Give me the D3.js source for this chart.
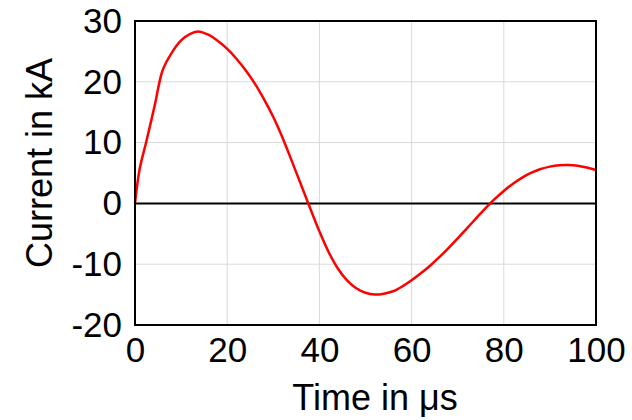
<!DOCTYPE html>
<html>
<head>
<meta charset="utf-8">
<title>Current</title>
<script src="https://d3js.org/d3.v7.min.js"></script>
<style>
  body { margin: 0; background: #fff; }
  text { font-family: "Liberation Sans", Arial, sans-serif; fill: #000; }
</style>
</head>
<body>
<script>
// time in microseconds and current in kA
var times   = [0, 1, 2.5, 4.3, 6, 8, 10, 12, 14, 16, 18, 20, 22, 24, 26, 28, 30, 32, 34, 36, 38, 40, 42, 44, 46, 48, 50, 52, 54, 56, 58, 60, 62, 64, 66, 68, 70, 72, 74, 76, 78, 80, 82, 84, 86, 88, 90, 92, 94, 96, 98, 100];
var current = [0, 5.6, 10.3, 16.2, 21.9, 24.8, 26.8, 27.9, 28.25, 27.7, 26.7, 25.4, 23.8, 21.9, 19.7, 17.1, 14.2, 10.8, 7.0, 3.1, -0.8, -4.6, -8.0, -10.7, -12.65, -13.95, -14.7, -15.0, -14.85, -14.45, -13.65, -12.65, -11.5, -10.25, -8.85, -7.35, -5.75, -4.1, -2.45, -0.8, 0.7, 2.05, 3.25, 4.25, 5.05, 5.65, 6.05, 6.28, 6.32, 6.2, 5.9, 5.5];
var xTicks = [0, 20, 40, 60, 80, 100];
var yTicks = [-20, -10, 0, 10, 20, 30];

var w = 632, h = 420;
var pLeft = 135, pRight = 596, pTop = 21, pBottom = 325;

var svg = d3.select("body").append("svg")
    .attr("width", w)
    .attr("height", h);

var x = d3.scaleLinear().domain([0, 100]).range([pLeft, pRight]);
var y = d3.scaleLinear().domain([-20, 30]).range([pBottom, pTop]);

// gridlines
svg.append("g").selectAll("line").data(xTicks.slice(1, -1)).enter().append("line")
    .attr("x1", function (d) { return x(d); })
    .attr("x2", function (d) { return x(d); })
    .attr("y1", pTop).attr("y2", pBottom)
    .attr("stroke", "#d9d9d9").attr("stroke-width", 1);

svg.append("g").selectAll("line").data(yTicks.slice(1, -1).filter(function (d) { return d != 0; })).enter().append("line")
    .attr("y1", function (d) { return y(d); })
    .attr("y2", function (d) { return y(d); })
    .attr("x1", pLeft).attr("x2", pRight)
    .attr("stroke", "#d9d9d9").attr("stroke-width", 1);

// zero line
svg.append("line")
    .attr("x1", pLeft).attr("x2", pRight)
    .attr("y1", y(0)).attr("y2", y(0))
    .attr("stroke", "#000").attr("stroke-width", 2);

// curve
var line = d3.line()
    .x(function (d, i) { return x(times[i]); })
    .y(function (d) { return y(d); })
    .curve(d3.curveCatmullRom.alpha(0.5));

svg.append("path")
    .datum(current)
    .attr("d", line)
    .attr("fill", "none")
    .attr("stroke", "#ff0000")
    .attr("stroke-width", 2.5);

// frame
svg.append("rect")
    .attr("x", pLeft).attr("y", pTop)
    .attr("width", pRight - pLeft).attr("height", pBottom - pTop)
    .attr("fill", "none").attr("stroke", "#000").attr("stroke-width", 2);

// axes (labels only)
var xAxis = svg.append("g")
    .attr("transform", "translate(0," + pBottom + ")")
    .call(d3.axisBottom(x).tickValues(xTicks).tickSize(0).tickPadding(12));
xAxis.select(".domain").remove();
xAxis.selectAll("text").attr("font-size", 35).attr("font-family", "Liberation Sans, Arial, sans-serif");

var yAxis = svg.append("g")
    .attr("transform", "translate(" + pLeft + ",0)")
    .call(d3.axisLeft(y).tickValues(yTicks).tickSize(0).tickPadding(13)
        .tickFormat(function (d) { return d < 0 ? "-" + Math.abs(d) : d; }));
yAxis.select(".domain").remove();
yAxis.selectAll("text").attr("font-size", 35).attr("font-family", "Liberation Sans, Arial, sans-serif");

// titles
svg.append("text")
    .attr("x", 375)
    .attr("y", 410)
    .attr("text-anchor", "middle")
    .attr("font-size", 36)
    .text("Time in μs");

svg.append("text")
    .attr("transform", "translate(52,163) rotate(-90)")
    .attr("text-anchor", "middle")
    .attr("font-size", 36)
    .text("Current in kA");
</script>
</body>
</html>
